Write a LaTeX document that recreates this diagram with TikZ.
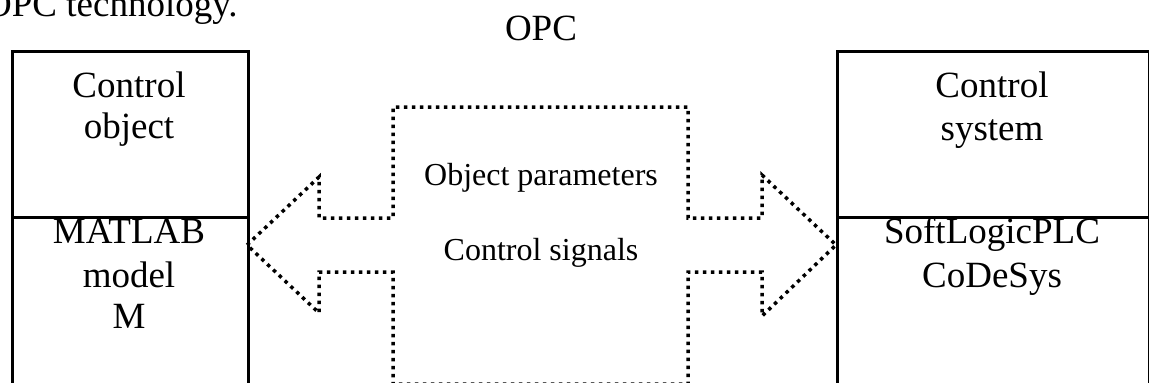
\documentclass[tikz,border=0pt]{standalone}
\usepackage{fontspec}
\setmainfont{Liberation Serif}
\begin{document}
\begin{tikzpicture}[x=1pt,y=-1pt,
  bigtxt/.style={font=\fontsize{37}{42}\selectfont, inner sep=0pt, anchor=base},
  midtxt/.style={font=\fontsize{32}{38}\selectfont, inner sep=0pt, anchor=base},
  boxst/.style={draw, line width=3pt, inner sep=0pt, anchor=north west},
  dotline/.style={line width=3.5pt, dash pattern=on 3.5pt off 4.5pt}]
\useasboundingbox (0,0) rectangle (1149,383);
% boxes
\node[boxst, minimum width=236pt, minimum height=166pt] (ltop) at (11,50) {};
\node[boxst, minimum width=236pt, minimum height=168pt] (lbot) at (11,216) {};
\node[boxst, minimum width=312pt, minimum height=166pt] (rtop) at (836,50) {};
\node[boxst, minimum width=312pt, minimum height=168pt] (rbot) at (836,216) {};
% texts
\node[bigtxt, anchor=base west] (title) at (-15,16) {OPC technology.};
\node[bigtxt] (opc) at (541,40) {OPC};
\node[bigtxt] (l1) at (129,97) {Control};
\node[bigtxt] (l2) at (129,138) {object};
\node[bigtxt] (l3) at (129,243) {MATLAB};
\node[bigtxt] (l4) at (129,287) {model};
\node[bigtxt] (l5) at (129,328) {M};
\node[bigtxt] (r1) at (992,97) {Control};
\node[bigtxt] (r2) at (992,140) {system};
\node[bigtxt] (r3) at (992,243) {SoftLogicPLC};
\node[bigtxt] (r4) at (992,287) {CoDeSys};
\node[midtxt] (m1) at (541,185) {Object parameters};
\node[midtxt] (m2) at (541,260) {Control signals};
% dotted double arrow with central box
\coordinate (ltip) at (247,245);
\coordinate (rtip) at (836,245);
\draw[dotline] (ltip) -- (319,177) -- (319,218) -- (393,218) -- (393,107)
  -- (688,107) -- (688,218) -- (762,218) -- (762,175) -- (rtip)
  -- (762,316) -- (762,272) -- (688,272) -- (688,384)
  -- (393,384) -- (393,272) -- (319,272) -- (319,313) -- cycle;
\end{tikzpicture}
\end{document}
